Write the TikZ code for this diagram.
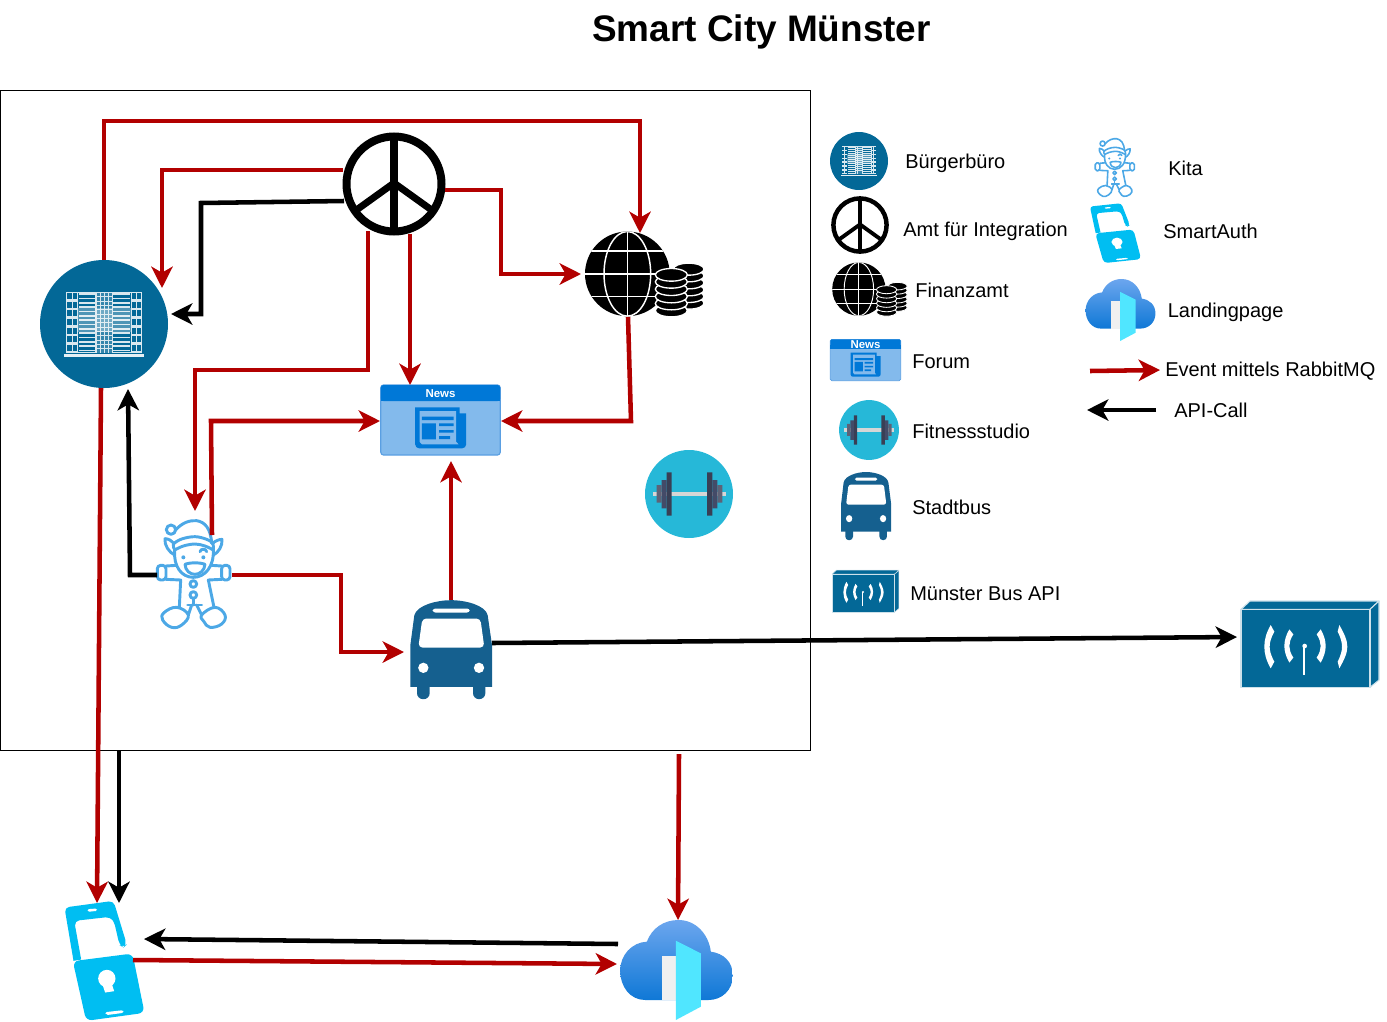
\documentclass[tikz,border=0pt]{standalone}
\usepackage{fontspec}
\setmainfont{Liberation Sans}
\usetikzlibrary{arrows.meta,calc}
\definecolor{cityblue}{HTML}{036897}
\definecolor{busblue}{HTML}{15608F}
\definecolor{elfblue}{HTML}{4CA8E6}
\definecolor{newsdark}{HTML}{0078D7}
\definecolor{newslight}{HTML}{83BAEC}
\definecolor{newsedge}{HTML}{5A9FE2}
\definecolor{authblue}{HTML}{00BEF2}
\definecolor{doorcyan}{HTML}{50E6FF}
\definecolor{cloudtop}{HTML}{6CA6EE}
\definecolor{cloudbot}{HTML}{0F78D6}
\definecolor{fitbg}{HTML}{26B8D8}
\definecolor{plateA}{HTML}{393F55}
\definecolor{plateB}{HTML}{434B68}
\definecolor{plateC}{HTML}{5E6276}
\definecolor{barcol}{HTML}{D6D6D6}
\definecolor{evred}{HTML}{B20000}
\tikzset{
  evline/.style={draw=evred,line width=3.4pt,-{Stealth[length=16pt,width=16pt,inset=4.5pt]}},
  apiline/.style={draw=black,line width=3.4pt,-{Stealth[length=16pt,width=16pt,inset=4.5pt]}},
  legend/.style={anchor=west,inner sep=0pt,text height=11pt,text depth=3pt,yshift=-1.5pt,font=\fontsize{15pt}{18pt}\selectfont},
}
\newcommand\iconBuilding[3]{%
 \begin{scope}[shift={(#1,#2)},scale=#3/3,shift={(-252,-252)}]
  \fill[cityblue] (252,252) circle (192);
  \fill[white!90!cityblue] (132,343) rectangle (372,350);
  \fill[white!85!cityblue] (138,155) rectangle (367,340);
  \fill[cityblue] (173,158) rectangle (226,337);
  \fill[cityblue] (279,158) rectangle (332,337);
  \foreach \yy in {0,...,6}{
    \fill[cityblue] (142,{159+26*\yy}) rectangle (155,{177+26*\yy});
    \fill[cityblue] (159,{159+26*\yy}) rectangle (170,{177+26*\yy});
    \fill[cityblue] (335,{159+26*\yy}) rectangle (347,{177+26*\yy});
    \fill[cityblue] (351,{159+26*\yy}) rectangle (364,{177+26*\yy});
  }
  \foreach \yy in {0,...,13}{
    \fill[white!85!cityblue] (176,{160+13*\yy}) rectangle (226,{165+13*\yy});
    \fill[white!85!cityblue] (279,{160+13*\yy}) rectangle (330,{165+13*\yy});
  }
  \foreach \yy in {0,...,13}{ \foreach \xx in {0,...,3}{
    \fill[cityblue!80!white] ({230+12*\xx},{159+13*\yy}) rectangle ({239+12*\xx},{169+13*\yy});
  }}
  \fill[white,opacity=.3] (173,205) rectangle (332,275);
 \end{scope}}
\newcommand\iconPeace[3]{%
 \begin{scope}[shift={(#1,#2)},scale=#3]
  \draw[black,line width={#3*6pt}] (0,0) circle (47.5);
  \draw[black,line width={#3*6pt}] (0,-47) -- (0,47);
  \draw[black,line width={#3*5.2pt}] (-39,27) -- (0,-1) -- (39,27);
 \end{scope}}
\newcommand\iconFinance[3]{%
 \begin{scope}[shift={(#1,#2)},scale=#3/3,shift={(-209,-164)}]
  \fill[black] (156,162) circle (127);
  \begin{scope}
   \clip (156,162) circle (127);
   \draw[white,line width={#3*1.1pt}] (29,162) -- (283,162) (156,35) -- (156,289)
     (40,93) -- (272,93) (40,230) -- (272,230);
   \draw[white,line width={#3*1.1pt}] (156,162) ellipse [x radius=70,y radius=127];
  \end{scope}
  \foreach \yy in {250,230,210,189,168,148}{
    \draw[white,fill=black,line width={#3*1pt}] (340,\yy) ellipse [x radius=46,y radius=18];
  }
  \foreach \yy in {272,251,230,208,186,165}{
    \draw[white,fill=black,line width={#3*1pt}] (288,\yy) ellipse [x radius=48,y radius=19];
  }
 \end{scope}}
\newcommand\iconElf[3]{%
 \begin{scope}[shift={(#1,#2)},scale=#3/3,shift={(-162,-222)},draw=elfblue,line width={#3*2.2pt},line join=round,line cap=round]
  \draw (93,89) circle (14);
  \draw (105,92) .. controls (125,68) and (150,60) .. (170,62) .. controls (195,66) and (212,85) .. (215,130);
  \draw plot[smooth,tension=.6] coordinates {(104,148) (100,133) (125,117) (165,110) (200,118) (218,130) (220,150)};
  \draw plot[smooth,tension=.6] coordinates {(104,150) (130,138) (165,132) (195,138) (220,150)};
  \draw (104,165) .. controls (88,158) and (72,135) .. (75,116) .. controls (85,116) and (95,122) .. (102,130);
  \draw (220,165) .. controls (235,158) and (248,138) .. (246,118) .. controls (238,118) and (226,122) .. (218,130);
  \draw (104,150) .. controls (100,200) and (125,232) .. (160,232) .. controls (195,232) and (222,200) .. (220,150);
  \draw (180,155) .. controls (182,145) and (198,145) .. (200,155);
  \fill[elfblue] (130,172) circle (6) (190,172) circle (6);
  \draw (135,193) .. controls (150,187) and (180,187) .. (195,193) .. controls (194,212) and (178,223) .. (165,223) .. controls (150,223) and (136,212) .. (135,193) -- cycle;
  \draw[rounded corners={#3*2.5pt}] (52,196) rectangle (78,240);
  \draw[rounded corners={#3*2.5pt}] (245,196) rectangle (270,240);
  \draw (78,198) -- (110,196) (78,238) -- (122,240) -- (118,322);
  \draw (245,198) -- (215,196) (245,238) -- (205,240) -- (222,322);
  \draw (160,252) circle (10) (160,285) circle (10);
  \draw (160,295) -- (160,315) (143,315) -- (185,315);
  \draw (155,315) -- (145,345) (170,315) -- (185,345);
  \draw plot[smooth cycle,tension=.7] coordinates {(72,338) (110,322) (145,345) (125,375) (95,382) (68,360)};
  \draw plot[smooth cycle,tension=.7] coordinates {(185,345) (225,322) (255,345) (245,372) (210,382) (192,365)};
 \end{scope}}
\newcommand\iconNews[4]{%
 \begin{scope}[shift={(#1,#2)},scale=#3/3,shift={(-211,-135)}]
  \draw[newsedge,fill=newslight,line width={#3*.9pt},rounded corners={#3*2pt}] (32,30) rectangle (390,240);
  \fill[newsdark,rounded corners={#3*2pt}] (32,30) rectangle (390,78);
  \fill[newsdark] (32,60) rectangle (390,78);
  \fill[newsdark] (135,97) -- (268,97) -- (268,115) -- (288,115) [rounded corners={#3*3pt}] -- (288,220) -- (135,220) [sharp corners] -- (135,97) -- cycle;
  \fill[newslight] (148,108) -- (258,108) -- (258,200) -- (265,208) -- (155,208) -- (148,200) -- cycle;
  \fill[newsdark] (155,125) rectangle (250,135) (155,145) rectangle (197,193)
     (207,145) rectangle (250,153) (207,165) rectangle (250,173) (207,183) rectangle (240,192);
  \node[inner sep=0pt,text=white,font=\fontsize{8.6pt}{9pt}\selectfont\bfseries] (#4) at (211,57) {News};
 \end{scope}}
\newcommand\iconFit[3]{%
 \begin{scope}[shift={(#1,#2)},scale=#3/3,shift={(-162,-162)}]
  \fill[fitbg] (162,162) circle (132);
  \fill[barcol] (53,155) rectangle (272,169);
  \fill[plateA] (95,97) rectangle (110,227) (216,97) rectangle (232,227);
  \fill[plateB] (80,120) rectangle (95,205) (232,120) rectangle (247,205);
  \fill[plateC] (65,135) rectangle (80,188) (247,135) rectangle (262,188);
 \end{scope}}
\newcommand\iconBus[4]{%
 \begin{scope}[shift={(#1,#2)},scale=#3/3,yscale=#4,shift={(-152,-178)}]
  \fill[busblue,rounded corners={#3*4.5pt}] (50,270) rectangle (88,327);
  \fill[busblue,rounded corners={#3*4.5pt}] (218,270) rectangle (255,327);
  \fill[busblue] (30,290) -- (30,165) -- (42,75) .. controls (50,45) and (110,30) .. (152,30) .. controls (195,30) and (255,45) .. (262,75) -- (275,165) -- (275,290) -- cycle;
  \fill[white,rounded corners={#3*3pt}] (66,85) -- (240,85) -- (252,172) -- (54,172) -- cycle;
  \fill[white,rounded corners={#3*2pt}] (97,55) rectangle (208,67);
  \fill[white] (69,233) circle (15.5) (236,233) circle (15.5);
 \end{scope}}
\newcommand\iconAntenna[3]{%
 \begin{scope}[shift={(#1,#2)},scale=#3/3,shift={(-240,-162)}]
  \draw[white!80!cityblue,fill=cityblue,line width={#3*.8pt},line join=round] (33,58) -- (60,33) -- (447,33) -- (420,58) -- cycle;
  \draw[white!80!cityblue,fill=cityblue,line width={#3*.8pt},line join=round] (420,58) -- (447,33) -- (447,270) -- (420,292) -- cycle;
  \draw[white!80!cityblue,fill=cityblue,line width={#3*.8pt},line join=round] (33,58) rectangle (420,292);
  \fill[white] (122,105) .. controls (108,130) and (103,150) .. (103,170) .. controls (103,190) and (108,210) .. (122,235) -- (133,215) .. controls (122,195) and (119,182) .. (119,170) .. controls (119,158) and (122,145) .. (133,125) -- cycle;
  \fill[white] (178,118) .. controls (168,135) and (163,152) .. (163,168) .. controls (163,184) and (168,200) .. (178,218) -- (190,203) .. controls (182,190) and (178,180) .. (178,168) .. controls (178,156) and (182,146) .. (190,133) -- cycle;
  \fill[white] (272,118) .. controls (282,135) and (287,152) .. (287,168) .. controls (287,184) and (282,200) .. (272,218) -- (260,203) .. controls (268,190) and (272,180) .. (272,168) .. controls (272,156) and (268,146) .. (260,133) -- cycle;
  \fill[white] (328,105) .. controls (342,130) and (352,150) .. (352,170) .. controls (352,190) and (342,210) .. (328,235) -- (323,215) .. controls (333,195) and (336,182) .. (336,170) .. controls (336,158) and (333,145) .. (323,125) -- cycle;
  \fill[white] (224,168) circle (7);
  \draw[white,line width={#3*1.4pt}] (223,170) -- (223,255);
 \end{scope}}
\newcommand\iconAuth[4]{%
 \begin{scope}[shift={(#1,#2)},scale=#3/3,yscale=#4,shift={(-163,-211)}]
  \fill[authblue] (70,212) -- (93,208) -- (75,108) [rounded corners={#3*3.5pt}] -- (73,92) -- (180,80) -- (192,95) -- (208,165) -- (220,172) -- (230,163) -- (190,32) -- (43,52) [sharp corners] -- cycle;
  \fill[white,rounded corners={#3*1pt}] (112,57) -- (140,55) -- (141,62) -- (113,65) -- cycle;
  \fill[authblue,rounded corners={#3*4.5pt}] (68,213) -- (247,190) -- (283,368) -- (108,392) -- cycle;
  \fill[white] (170,265) circle (26);
  \fill[white] (156,280) -- (165,307) -- (192,303) -- (182,272) -- cycle;
  \fill[white,rounded corners={#3*1.5pt}] (165,366) -- (219,360) -- (220,368) -- (167,375) -- cycle;
 \end{scope}}
\newcommand\iconCloud[3]{%
 \begin{scope}[shift={(#1,#2)},scale=#3/3,shift={(-199,-180)}]
  \shade[top color=cloudtop,bottom color=cloudbot] (105,270) .. controls (60,270) and (30,230) .. (30,182) .. controls (30,135) and (65,97) .. (110,95) .. controls (125,55) and (160,30) .. (205,30) .. controls (255,30) and (295,70) .. (302,125) .. controls (340,130) and (368,155) .. (368,197) .. controls (368,240) and (335,270) .. (295,270) -- cycle;
  \fill[black!6] (155,138) rectangle (197,270);
  \fill[doorcyan] (197,92) -- (272,130) -- (272,290) -- (197,330) -- cycle;
 \end{scope}}
\begin{document}
\begin{tikzpicture}[x=0.75pt,y=-0.75pt]
\useasboundingbox (0,0) rectangle (1387,1021);
\node[inner sep=0pt,font=\fontsize{27.7pt}{32pt}\selectfont\bfseries] (title) at (761.5,32) {Smart City Münster};
\node[draw=black,line width=.75pt,inner sep=0pt,outer sep=0pt,minimum width=607.5pt,minimum height=495pt] (frame) at (405.5,420.5) {};
% diagram icons
\iconBuilding{104}{324}{1}
\iconPeace{394}{184}{1}
\iconFinance{645}{274.5}{1}
\iconElf{194}{574}{1}
\iconNews{440.5}{420}{1}{newslabel}
\iconFit{689}{494}{1}
\iconBus{451}{649.5}{1}{1}
\iconAntenna{1310}{644}{1}
\iconAuth{104.5}{960.5}{1}{1}
\iconCloud{676.5}{970}{1}
% legend icons
\iconBuilding{859}{161}{.453}
\iconPeace{860}{225}{.56}
\iconFinance{870}{289.5}{.63}
\iconNews{865.5}{360}{.59}{newslabelb}
\iconFit{869}{430}{.68}
\iconBus{866}{506}{.61}{1.13}
\iconAntenna{865.5}{591}{.485}
\iconElf{1115}{167.5}{.54}
\iconAuth{1115.5}{233}{.64}{.78}
\iconCloud{1120.5}{310}{.62}
% legend labels
\node[legend] (l1) at (905,161) {Bürgerbüro};
\node[legend] (l2) at (903,229) {Amt für Integration};
\node[legend] (l3) at (915,290) {Finanzamt};
\node[legend] (l4) at (912,361) {Forum};
\node[legend] (l5) at (912,431) {Fitnessstudio};
\node[legend] (l6) at (912,507) {Stadtbus};
\node[legend] (l7) at (910,593) {Münster Bus API};
\node[legend] (l8) at (1168,168) {Kita};
\node[legend] (l9) at (1163,231) {SmartAuth};
\node[legend] (l10) at (1167.5,310) {Landingpage};
\node[legend] (l11) at (1165,369) {Event mittels RabbitMQ};
\node[legend] (l12) at (1174,410) {API-Call};
% connector ends
\coordinate (buT) at (104,260);
\coordinate (buB) at (101,388);
\coordinate (buR) at (171,314);
\coordinate (buR2) at (162,288);
\coordinate (buD) at (128,389);
\coordinate (fiT) at (640,233);
\coordinate (fiL) at (581,274);
\coordinate (fiB) at (628,317);
\coordinate (peL1) at (343,170);
\coordinate (peL2) at (344,201);
\coordinate (peR) at (445,190);
\coordinate (peB1) at (368,231);
\coordinate (peB2) at (410,234);
\coordinate (neT) at (410,385);
\coordinate (neL) at (380,421);
\coordinate (neR) at (501,421);
\coordinate (neB) at (451,461);
\coordinate (kiT) at (195,511);
\coordinate (kiU) at (212,535);
\coordinate (kiR) at (232,575);
\coordinate (kiL) at (157,575);
\coordinate (baT) at (451,600);
\coordinate (baL) at (404,652);
\coordinate (baR) at (492,643);
\coordinate (apiL) at (1237,637);
\coordinate (auT1) at (97,903);
\coordinate (auT2) at (119,903);
\coordinate (frB) at (119,750);
\coordinate (frB2) at (679,754);
\coordinate (clT) at (678,920);
\coordinate (clL1) at (618,944);
\coordinate (auR1) at (144,939);
\coordinate (auR2) at (133,960);
\coordinate (clL2) at (617,964);
\coordinate (lgA) at (1090,371);
\coordinate (lgB) at (1160,370);
\coordinate (lgC) at (1156,410);
\coordinate (lgD) at (1087,410);
% connectors
\draw[evline] (buT) -- (104,121) -- (640,121) -- (fiT);
\draw[evline] (peL1) -- (162,170) -- (buR2);
\draw[apiline] (peL2) -- (201,203) -- (201,314) -- (buR);
\draw[evline] (peR) -- (501,190) -- (501,274) -- (fiL);
\draw[evline] (peB2) -- (neT);
\draw[evline] (peB1) -- (368,370) -- (195,370) -- (kiT);
\draw[evline] (kiU) -- (211,421) -- (neL);
\draw[evline] (fiB) -- (631,421) -- (neR);
\draw[evline] (baT) -- (neB);
\draw[evline] (kiR) -- (341,575) -- (341,652) -- (baL);
\draw[apiline] (kiL) -- (130,575) -- (buD);
\draw[apiline] (baR) -- (apiL);
\draw[evline] (buB) -- (auT1);
\draw[apiline] (frB) -- (auT2);
\draw[evline] (frB2) -- (clT);
\draw[apiline] (clL1) -- (auR1);
\draw[evline] (auR2) -- (clL2);
\draw[evline] (lgA) -- (lgB);
\draw[apiline] (lgC) -- (lgD);
\end{tikzpicture}
\end{document}
